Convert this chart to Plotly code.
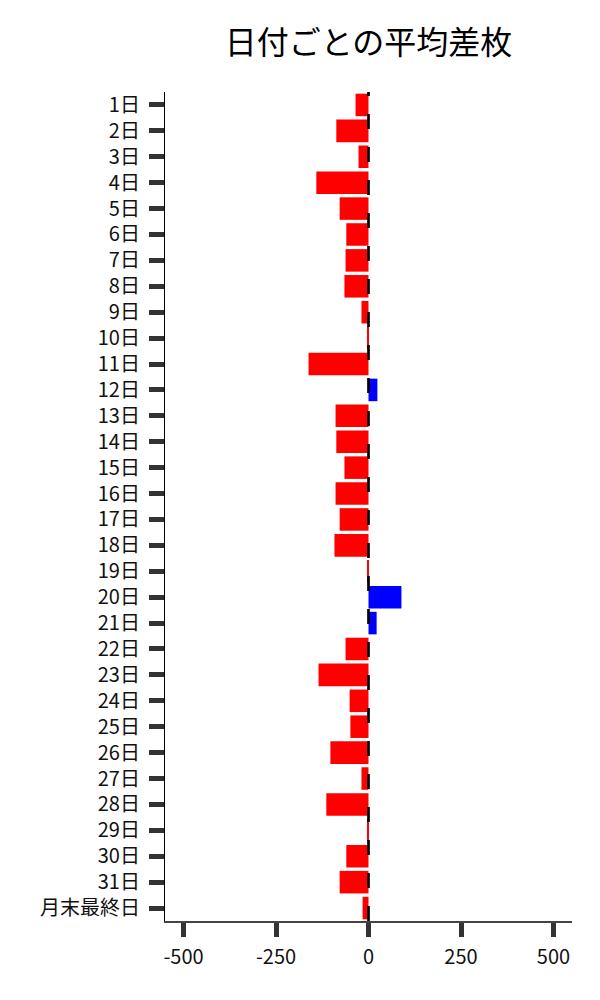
import plotly.graph_objects as go

categories = [f"{d}日" for d in range(1, 32)] + ["月末最終日"]
values = [-35, -87, -27, -141, -78, -60, -62, -65, -19, -2,
          -162, 24, -89, -87, -65, -89, -78, -92, -2, 89,
          22, -62, -135, -51, -49, -103, -19, -114, -2, -60,
          -78, -16]
x_tickvals = [-500, -250, 0, 250, 500]
x_ticktext = ["-500", "-250", "0", "250", "500"]
title_text = "日付ごとの平均差枚"

colors = ["#0000FF" if v > 0 else "#FF0000" for v in values]

fig = go.Figure()
fig.add_trace(go.Bar(
    x=values, y=categories, orientation="h",
    marker=dict(color=colors, line=dict(width=0)),
))

fig.add_shape(type="line", xref="x", yref="paper", x0=0, x1=0, y0=0, y1=1,
              line=dict(color="black", width=2.7, dash="15px,18px"), layer="above")

font_family = "Noto Sans CJK JP, Noto Sans, sans-serif"
fig.update_layout(
    width=600, height=1000,
    margin=dict(l=157, r=36, t=84, b=87),
    paper_bgcolor="white", plot_bgcolor="white",
    showlegend=False,
    bargap=0.13,
    font=dict(family=font_family, size=20, color="#111"),
    title=dict(text=title_text, x=0.5, xref="paper", xanchor="center",
               y=0.965, yref="container", yanchor="middle",
               font=dict(size=32, color="black", family=font_family)),
)
fig.update_xaxes(
    range=[-550, 550], tickvals=x_tickvals, ticktext=x_ticktext,
    ticks="outside", ticklen=14, tickwidth=5, tickcolor="#333",
    showline=True, linecolor="#444", linewidth=1.5,
    showgrid=False, zeroline=False, ticklabelstandoff=3,
    tickfont=dict(size=20, color="#111"),
)
fig.update_yaxes(
    categoryorder="array", categoryarray=categories, autorange="reversed",
    ticks="outside", ticklen=15, tickwidth=5, tickcolor="#333",
    showline=True, linecolor="black", linewidth=1.2,
    showgrid=False, zeroline=False, ticklabelstandoff=5,
    tickfont=dict(size=20, color="#111"),
)

fig.write_html("out.html")
